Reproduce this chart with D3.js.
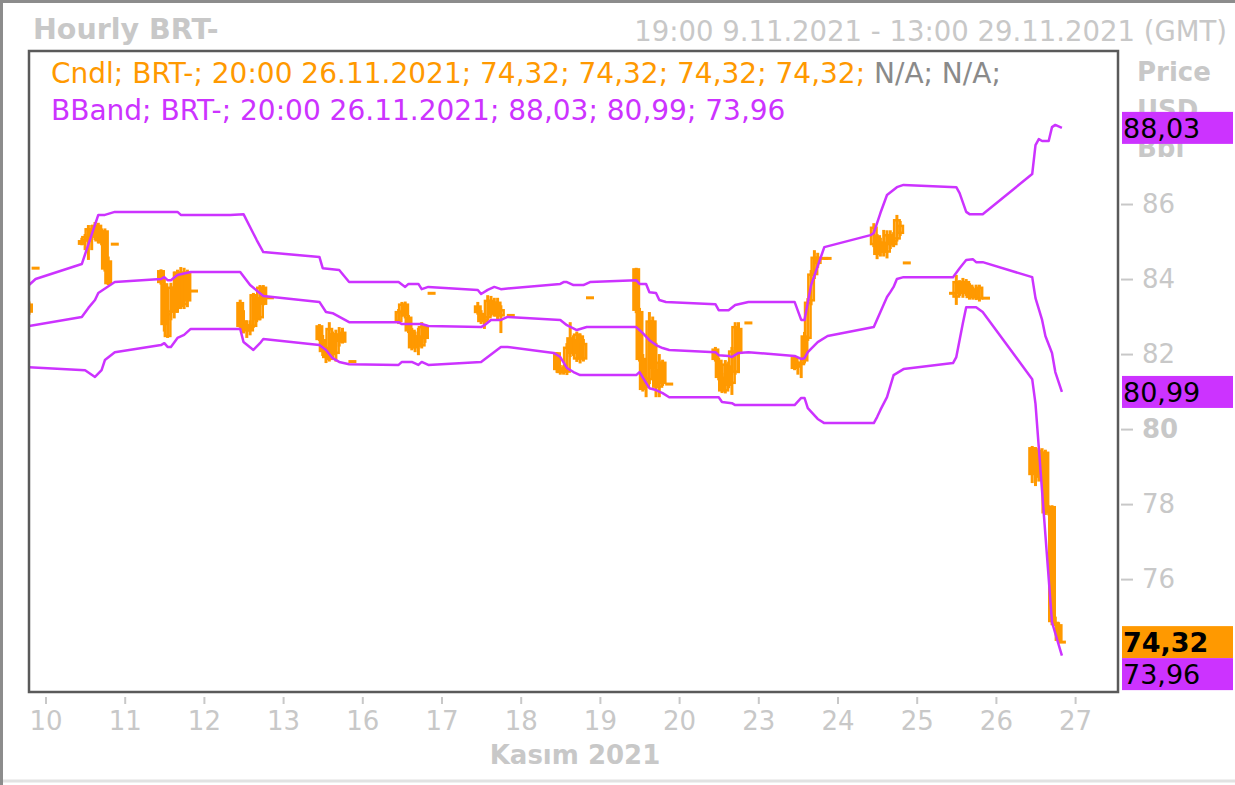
<!DOCTYPE html>
<html>
<head>
<meta http-equiv="Content-Type" content="text/html;charset=utf-8">
<script src="https://d3js.org/d3.v7.min.js"></script>
<style>
  body { margin: 0; background: #fff; }
  text { font-family: "DejaVu Sans", Verdana, sans-serif; }
</style>
</head>
<body>
<svg id="chart" width="1235" height="785"></svg>
<script type="text/javascript">

// trading days on the axis (weekends removed), first day starts 19:00, last ends 13:00
var tradingDays = ["09","10","11","12","15","16","17","18","19","22","23","24","25","26","29"];
var tickLabels = ["10","11","12","13","16","17","18","19","20","23","24","25","26","27"];
var yTicks = [76, 78, 80, 82, 84, 86];

// hourly candles: [day hour, open, high, low, close]
var candles09 = [
  ["09 19", 83.35, 83.4, 83.05, 83.1],
  ["09 21", 84.29, 84.29, 84.29, 84.29]
];
var candles10 = [
  ["10 11", 84.91, 85.1, 84.9, 85.04],
  ["10 12", 85.0, 85.2, 84.77, 85.15],
  ["10 13", 85.0, 85.44, 84.51, 85.36],
  ["10 14", 85.36, 85.44, 84.77, 85.1],
  ["10 15", 85.1, 85.52, 85.04, 85.45],
  ["10 16", 85.45, 85.5, 84.95, 85.0],
  ["10 17", 84.95, 85.35, 84.9, 85.3],
  ["10 18", 85.3, 85.35, 84.2, 84.25],
  ["10 19", 84.5, 84.6, 83.84, 83.86],
  ["10 21", 84.93, 84.93, 84.93, 84.93]
];
var candles11 = [
  ["11 11", 84.24, 84.26, 83.85, 83.89],
  ["11 12", 83.89, 84.0, 82.6, 82.77],
  ["11 13", 82.45, 83.2, 82.43, 83.1],
  ["11 14", 83.1, 83.9, 82.9, 83.8],
  ["11 15", 83.8, 84.2, 82.95, 83.1],
  ["11 16", 83.2, 84.25, 83.1, 84.2],
  ["11 17", 84.2, 84.32, 83.2, 83.25],
  ["11 18", 83.3, 84.3, 83.2, 84.2],
  ["11 19", 84.2, 84.25, 83.25, 83.4],
  ["11 21", 83.68, 83.68, 83.68, 83.68]
];
var candles12 = [
  ["12 11", 83.39, 83.45, 82.7, 82.72],
  ["12 12", 82.9, 83.17, 82.55, 82.64],
  ["12 13", 82.6, 82.9, 82.43, 82.8],
  ["12 14", 82.75, 82.9, 82.5, 82.6],
  ["12 15", 82.72, 83.63, 82.7, 83.6],
  ["12 16", 83.52, 83.6, 82.85, 82.9],
  ["12 17", 82.95, 83.84, 82.9, 83.8],
  ["12 18", 83.8, 83.84, 83.3, 83.31],
  ["12 20", 83.5, 83.5, 83.5, 83.5]
];
var candles15 = [
  ["15 11", 82.77, 82.8, 82.35, 82.37],
  ["15 12", 82.4, 82.51, 81.95, 82.05],
  ["15 13", 82.19, 82.2, 81.76, 81.89],
  ["15 14", 81.84, 82.85, 81.8, 82.7],
  ["15 15", 82.56, 82.6, 81.9, 81.97],
  ["15 16", 82.0, 82.65, 81.8, 82.55],
  ["15 17", 82.55, 82.72, 82.2, 82.32],
  ["15 18", 82.3, 82.7, 82.28, 82.6],
  ["15 21", 81.8, 81.8, 81.8, 81.8]
];
var candles16 = [
  ["16 11", 82.85, 83.2, 82.8, 83.15],
  ["16 12", 83.1, 83.39, 83.0, 83.35],
  ["16 13", 83.35, 83.4, 82.95, 83.0],
  ["16 14", 83.0, 83.04, 82.56, 82.6],
  ["16 15", 82.65, 82.7, 82.1, 82.15],
  ["16 16", 82.15, 82.6, 82.05, 82.5],
  ["16 17", 82.5, 82.7, 81.97, 82.2],
  ["16 18", 82.2, 82.85, 82.15, 82.75],
  ["16 19", 82.75, 82.8, 82.3, 82.4],
  ["16 21", 83.62, 83.62, 83.62, 83.62]
];
var candles17 = [
  ["17 11", 83.3, 83.39, 83.05, 83.09],
  ["17 12", 83.1, 83.17, 82.8, 82.85],
  ["17 13", 82.85, 83.0, 82.67, 82.95],
  ["17 14", 82.95, 83.57, 82.9, 83.45],
  ["17 15", 83.45, 83.55, 83.0, 83.05],
  ["17 16", 83.05, 83.5, 83.0, 83.4],
  ["17 17", 83.4, 83.5, 82.9, 83.0],
  ["17 18", 83.0, 83.3, 82.56, 83.2],
  ["17 21", 83.03, 83.03, 83.03, 83.03]
];
var candles18 = [
  ["18 11", 82.05, 82.05, 81.5, 81.57],
  ["18 12", 81.6, 81.71, 81.45, 81.49],
  ["18 13", 81.5, 81.7, 81.45, 81.65],
  ["18 14", 81.5, 82.29, 81.44, 82.2],
  ["18 15", 82.45, 82.85, 81.92, 82.0],
  ["18 16", 82.0, 82.5, 81.95, 82.4],
  ["18 17", 81.85, 82.6, 81.79, 82.55],
  ["18 18", 82.5, 82.55, 81.75, 81.85],
  ["18 19", 81.85, 82.4, 81.8, 82.3],
  ["18 21", 83.5, 83.5, 83.5, 83.5]
];
var candles19 = [
  ["19 11", 84.29, 84.3, 83.09, 83.15],
  ["19 12", 83.15, 83.23, 81.8, 81.84],
  ["19 13", 81.9, 82.0, 81.0, 81.04],
  ["19 14", 81.1, 81.4, 80.85, 81.3],
  ["19 15", 81.3, 83.12, 81.2, 82.9],
  ["19 16", 82.9, 83.0, 81.4, 81.6],
  ["19 17", 81.6, 82.3, 80.85, 81.1],
  ["19 18", 81.1, 82.0, 80.85, 81.8],
  ["19 19", 81.8, 81.85, 81.15, 81.2],
  ["19 21", 81.2, 81.2, 81.2, 81.2]
];
var candles22 = [
  ["22 11", 82.15, 82.19, 81.8, 81.84],
  ["22 12", 81.85, 81.9, 81.3, 81.36],
  ["22 13", 81.4, 81.5, 80.96, 81.0],
  ["22 14", 81.0, 81.84, 80.95, 81.75],
  ["22 15", 81.7, 81.8, 81.09, 81.15],
  ["22 16", 81.2, 82.19, 80.91, 82.1],
  ["22 17", 81.5, 82.85, 81.45, 82.75],
  ["22 18", 82.0, 82.85, 81.49, 82.7],
  ["22 21", 82.83, 82.83, 82.83, 82.83]
];
var candles23 = [
  ["23 11", 81.92, 81.95, 81.57, 81.6],
  ["23 12", 81.65, 81.8, 81.45, 81.7],
  ["23 13", 81.7, 81.9, 81.36, 81.8],
  ["23 14", 81.8, 82.59, 81.75, 82.5],
  ["23 15", 82.4, 83.49, 82.35, 83.4],
  ["23 16", 83.4, 84.24, 83.3, 84.15],
  ["23 17", 84.1, 84.77, 84.0, 84.6],
  ["23 18", 84.6, 84.7, 84.3, 84.4],
  ["23 20", 84.55, 84.55, 84.55, 84.55],
  ["23 21", 84.55, 84.55, 84.55, 84.55]
];
var candles24 = [
  ["24 11", 84.9, 85.49, 84.85, 85.4],
  ["24 12", 85.17, 85.2, 84.53, 84.64],
  ["24 13", 84.7, 85.1, 84.6, 85.0],
  ["24 14", 85.0, 85.31, 84.6, 84.7],
  ["24 15", 84.7, 85.3, 84.55, 85.2],
  ["24 16", 85.2, 85.3, 84.8, 84.9],
  ["24 17", 84.9, 85.25, 84.85, 85.05],
  ["24 18", 85.05, 85.71, 85.0, 85.6],
  ["24 19", 85.2, 85.55, 85.15, 85.45],
  ["24 21", 84.43, 84.43, 84.43, 84.43]
];
var candles25 = [
  ["25 11", 83.62, 83.65, 83.6, 83.62],
  ["25 12", 83.5, 84.11, 83.31, 83.95],
  ["25 13", 83.95, 83.97, 83.55, 83.6],
  ["25 14", 83.6, 84.03, 83.5, 83.95],
  ["25 15", 83.95, 84.0, 83.55, 83.6],
  ["25 16", 83.85, 83.89, 83.45, 83.49],
  ["25 17", 83.5, 83.8, 83.45, 83.75],
  ["25 18", 83.75, 83.85, 83.44, 83.48],
  ["25 19", 83.45, 83.85, 83.4, 83.8],
  ["25 21", 83.49, 83.49, 83.49, 83.49]
];
var candles26 = [
  ["26 11", 79.52, 79.55, 78.56, 78.77],
  ["26 12", 78.8, 79.52, 78.48, 79.45],
  ["26 13", 79.45, 79.5, 78.6, 78.7],
  ["26 14", 78.7, 79.49, 78.6, 79.4],
  ["26 15", 79.4, 79.45, 77.71, 77.75],
  ["26 16", 77.8, 77.97, 77.7, 77.9],
  ["26 17", 77.95, 77.97, 74.77, 74.85],
  ["26 18", 74.85, 75.0, 74.75, 74.8],
  ["26 19", 74.8, 74.85, 74.29, 74.35],
  ["26 20", 74.32, 74.32, 74.32, 74.32]
];

// Bollinger band vertices: [day hour, value]
var bandUpper = [
  ["09 19",83.84],["09 21",84.0],["10 11",84.4],["10 16",85.71],["10 18",85.71],["10 21",85.79],
  ["11 16",85.79],["11 17",85.71],["12 08",85.71],["12 12",85.73],["12 16",85.04],["12 18",84.72],
  ["15 11",84.59],["15 12",84.29],["15 17",84.24],["15 20",83.92],["16 11",83.92],["16 13",83.79],
  ["16 14",83.87],["16 17",83.87],["16 18",83.73],["16 20",83.79],["17 11",83.71],["17 12",83.6],
  ["17 14",83.71],["17 16",83.79],["17 18",83.73],["18 12",83.87],["18 13",83.92],["18 14",83.92],
  ["18 16",83.84],["18 19",83.84],["18 21",83.92],["19 11",83.97],["19 12",83.87],["19 14",83.87],
  ["19 15",83.65],["19 17",83.63],["19 18",83.44],["19 20",83.39],["22 11",83.33],["22 12",83.17],
  ["22 15",83.17],["22 17",83.31],["22 21",83.39],["23 11",83.39],["23 13",82.91],["23 14",82.91],
  ["23 16",83.84],["23 20",84.85],["24 10",85.17],["24 11",85.23],["24 13",85.76],["24 15",86.24],
  ["24 18",86.45],["24 20",86.51],["25 12",86.45],["25 13",86.29],["25 15",85.79],["25 16",85.73],
  ["25 20",85.73],["26 11",86.8],["26 12",87.57],["26 13",87.73],["26 14",87.68],["26 16",87.68],
  ["26 17",88.05],["26 18",88.11],["26 20",88.03]
];
var bandMiddle = [
  ["09 19",82.75],["10 11",82.99],["10 13",83.23],["10 15",83.44],["10 16",83.63],["10 21",83.92],
  ["11 11",84.0],["11 12",84.05],["11 13",83.97],["11 14",83.97],["11 16",84.11],["11 20",84.19],
  ["12 11",84.19],["12 14",83.84],["12 18",83.55],["15 11",83.39],["15 13",83.12],["15 15",83.09],
  ["15 20",82.85],["16 11",82.85],["16 12",82.8],["16 18",82.8],["16 20",82.75],["17 12",82.72],
  ["17 13",82.77],["17 15",82.91],["17 18",82.91],["17 20",82.99],["18 12",82.91],["18 14",82.77],
  ["18 17",82.64],["18 20",82.72],["19 11",82.72],["19 13",82.56],["19 15",82.37],["19 17",82.24],
  ["19 19",82.16],["19 21",82.11],["22 11",82.05],["22 12",81.97],["22 15",81.95],["22 16",81.92],
  ["22 18",82.03],["22 21",82.05],["23 11",81.95],["23 13",81.87],["23 14",81.89],["23 15",82.05],
  ["23 18",82.32],["23 21",82.48],["24 11",82.72],["24 13",83.12],["24 15",83.52],["24 16",83.65],
  ["24 17",83.79],["24 18",84.0],["24 20",84.05],["25 11",84.05],["25 13",84.29],["25 15",84.51],
  ["25 17",84.53],["25 18",84.45],["25 20",84.45],["26 11",84.05],["26 12",83.49],["26 14",82.91],
  ["26 15",82.48],["26 17",82.03],["26 18",81.52],["26 20",80.99]
];
var bandLower = [
  ["09 19",81.65],["10 12",81.57],["10 15",81.39],["10 17",81.57],["10 18",81.84],["10 21",82.05],
  ["11 11",82.24],["11 12",82.29],["11 13",82.19],["11 14",82.19],["11 16",82.43],["11 18",82.51],
  ["11 20",82.67],["12 11",82.67],["12 12",82.32],["12 15",82.11],["12 17",82.29],["12 18",82.4],
  ["15 11",82.24],["15 13",82.11],["15 15",81.89],["15 17",81.79],["15 20",81.73],["16 11",81.71],
  ["16 12",81.79],["16 15",81.79],["16 17",81.71],["16 18",81.79],["16 20",81.71],["17 12",81.79],
  ["17 18",82.19],["17 20",82.19],["18 10",82.03],["18 12",81.92],["18 14",81.63],["18 16",81.52],
  ["18 18",81.44],["19 11",81.44],["19 12",81.52],["19 14",81.23],["19 15",81.09],["19 17",81.04],
  ["19 19",80.96],["19 21",80.85],["22 12",80.85],["22 13",80.72],["22 16",80.69],["22 17",80.64],
  ["23 11",80.64],["23 13",80.83],["23 14",80.83],["23 15",80.56],["23 18",80.27],["23 20",80.16],
  ["24 11",80.16],["24 12",80.32],["24 13",80.51],["24 15",80.85],["24 17",81.44],["24 20",81.6],
  ["25 11",81.76],["25 12",81.92],["25 14",82.83],["25 15",83.25],["25 18",83.25],["25 20",83.12],
  ["26 11",81.33],["26 12",80.67],["26 17",74.85],["26 20",73.96]
];

var candles = [].concat(candles09, candles10, candles11, candles12, candles15, candles16,
  candles17, candles18, candles19, candles22, candles23, candles24, candles25, candles26);

var orange = "#ff9900", magenta = "#cc33ff", faint = "#c8c8c8";

function hourIndex(t) {
  var p = t.split(" ");
  return tradingDays.indexOf(p[0]) * 24 + (+p[1]) - 19;
}
function fmt(v) { return d3.format(".2f")(v).replace(".", ","); }

var svg = d3.select("#chart");
var plotL = 29, plotR = 1118, plotT = 51, plotB = 692;

var x = d3.scaleLinear().domain([0, hourIndex("29 13")]).range([plotL, plotR]);
var y = d3.scaleLinear().domain([72.99, 90.08]).range([plotB, plotT]);

// outer frame of the picture
svg.append("line").attr("x1", 0).attr("x2", 1235).attr("y1", 781).attr("y2", 781)
  .attr("stroke", "#e2e2e2").attr("stroke-width", 3);
svg.append("path").attr("d", "M1.5,785V1.5H1235").attr("fill", "none")
  .attr("stroke", "#8c8c8c").attr("stroke-width", 3);

// titles
svg.append("text").attr("x", 33).attr("y", 39).attr("fill", faint)
  .style("font-size", "28.5px").style("font-weight", "bold").text("Hourly BRT-");
svg.append("text").attr("x", 1227).attr("y", 41).attr("fill", faint).attr("text-anchor", "end")
  .style("font-size", "27.5px").text("19:00 9.11.2021 - 13:00 29.11.2021 (GMT)");

// unit label at the right
["Price", "USD", "Bbl"].forEach(function(s, i) {
  svg.append("text").attr("x", 1137).attr("y", 81 + i * 38).attr("fill", faint)
    .style("font-size", "26px").style("font-weight", "bold").text(s);
});

svg.append("clipPath").attr("id", "plotClip").append("rect")
  .attr("x", plotL).attr("y", plotT).attr("width", plotR - plotL).attr("height", plotB - plotT);

var plot = svg.append("g").attr("clip-path", "url(#plotClip)");

// candles
var cw = 8;
plot.selectAll("line.wick").data(candles.filter(function(d) { return d[2] > d[3]; }))
  .join("line").attr("class", "wick")
  .attr("x1", function(d) { return x(hourIndex(d[0])); })
  .attr("x2", function(d) { return x(hourIndex(d[0])); })
  .attr("y1", function(d) { return y(d[2]); })
  .attr("y2", function(d) { return y(d[3]); })
  .attr("stroke", orange).attr("stroke-width", 3);

plot.selectAll("rect.body").data(candles).join("rect").attr("class", "body")
  .each(function(d) {
    var cx = x(hourIndex(d[0]));
    var yt = y(Math.max(d[1], d[4])), yb = y(Math.min(d[1], d[4]));
    var r = d3.select(this);
    if (d[4] > d[1] && yb - yt > 5) {
      r.attr("x", cx - cw / 2 + 1.25).attr("y", yt + 1.25).attr("width", cw - 2.5).attr("height", yb - yt - 2.5)
        .attr("fill", "none").attr("stroke", orange).attr("stroke-width", 2.5);
    } else {
      var hgt = Math.max(yb - yt, 3);
      r.attr("x", cx - cw / 2).attr("y", (yt + yb) / 2 - hgt / 2).attr("width", cw).attr("height", hgt)
        .attr("fill", orange);
    }
  });

// Bollinger bands
var line = d3.line()
  .x(function(d) { return x(hourIndex(d[0])); })
  .y(function(d) { return y(d[1]); });
[bandUpper, bandMiddle, bandLower].forEach(function(b) {
  plot.append("path").attr("d", line(b)).attr("fill", "none")
    .attr("stroke", magenta).attr("stroke-width", 2.5).attr("stroke-linejoin", "round");
});

// plot frame
svg.append("rect").attr("x", plotL).attr("y", plotT).attr("width", plotR - plotL).attr("height", plotB - plotT)
  .attr("fill", "none").attr("stroke", "#5a5a5a").attr("stroke-width", 2.5);

// legend
var last = candles[candles.length - 1];
var lastTime = "20:00 26.11.2021";
var leg1 = svg.append("text").attr("x", 51).attr("y", 83).style("font-size", "28px");
leg1.append("tspan").attr("fill", orange)
  .text("Cndl; BRT-; " + lastTime + "; " + [last[1], last[2], last[3], last[4]].map(fmt).join("; ") + "; ");
leg1.append("tspan").attr("fill", "#8a8a8a").text("N/A; N/A;");
svg.append("text").attr("x", 51).attr("y", 120).style("font-size", "28px").attr("fill", magenta)
  .text("BBand; BRT-; " + lastTime + "; " + [bandUpper, bandMiddle, bandLower]
    .map(function(b) { return fmt(b[b.length - 1][1]); }).join("; "));

// x axis
var tickPos = tickLabels.map(function(d, i) { return (i + 1) * 24 - 19; });
svg.append("g").attr("transform", "translate(0," + (plotB + 5) + ")")
  .call(d3.axisBottom(x).tickValues(tickPos)
    .tickFormat(function(d, i) { return tickLabels[i]; }).tickSize(7).tickPadding(8))
  .call(function(g) { g.select(".domain").remove(); })
  .call(function(g) { g.selectAll("line").attr("stroke", faint).attr("stroke-width", 2); })
  .call(function(g) {
    g.selectAll("text").attr("fill", faint).style("font-size", "26px")
      .style("font-family", "'DejaVu Sans', Verdana, sans-serif");
  });
svg.append("text").attr("x", 575).attr("y", 764).attr("text-anchor", "middle").attr("fill", faint)
  .style("font-size", "26px").style("font-weight", "bold").text("Kasım 2021");

// y axis on the right
svg.append("g").attr("transform", "translate(" + (plotR + 3) + ",0)")
  .call(d3.axisRight(y).tickValues(yTicks).tickSize(12).tickPadding(9))
  .call(function(g) { g.select(".domain").remove(); })
  .call(function(g) { g.selectAll("line").attr("stroke", faint).attr("stroke-width", 2); })
  .call(function(g) {
    g.selectAll("text").attr("fill", faint).style("font-size", "26px")
      .style("font-family", "'DejaVu Sans', Verdana, sans-serif")
      .style("font-weight", function(d) { return d === 80 ? "bold" : "normal"; });
  });

// last value boxes, kept inside the frame and not overlapping
var boxH = 32;
var boxes = [
  { v: bandUpper[bandUpper.length - 1][1], fill: magenta, bold: false },
  { v: bandMiddle[bandMiddle.length - 1][1], fill: magenta, bold: false },
  { v: last[4], fill: orange, bold: true },
  { v: bandLower[bandLower.length - 1][1], fill: magenta, bold: false }
];
boxes.forEach(function(b) { b.cy = y(b.v); });
boxes.sort(function(a, b) { return a.cy - b.cy; });
for (var i = 1; i < boxes.length; i++) {
  if (boxes[i].cy < boxes[i - 1].cy + boxH) boxes[i].cy = boxes[i - 1].cy + boxH;
}
var maxC = plotB + 1 - boxH / 2;
if (boxes[boxes.length - 1].cy > maxC) boxes[boxes.length - 1].cy = maxC;
for (var j = boxes.length - 2; j >= 0; j--) {
  if (boxes[j].cy > boxes[j + 1].cy - boxH) boxes[j].cy = boxes[j + 1].cy - boxH;
}
var bg = svg.append("g").selectAll("g").data(boxes).join("g");
bg.append("rect").attr("x", plotR + 4).attr("y", function(d) { return d.cy - boxH / 2; })
  .attr("width", 111).attr("height", boxH).attr("fill", function(d) { return d.fill; });
bg.append("text").attr("x", plotR + 5).attr("y", function(d) { return d.cy + 10; })
  .attr("fill", "#000").style("font-size", "27px")
  .style("font-weight", function(d) { return d.bold ? "bold" : "normal"; })
  .text(function(d) { return fmt(d.v); });

</script>
</body>
</html>
